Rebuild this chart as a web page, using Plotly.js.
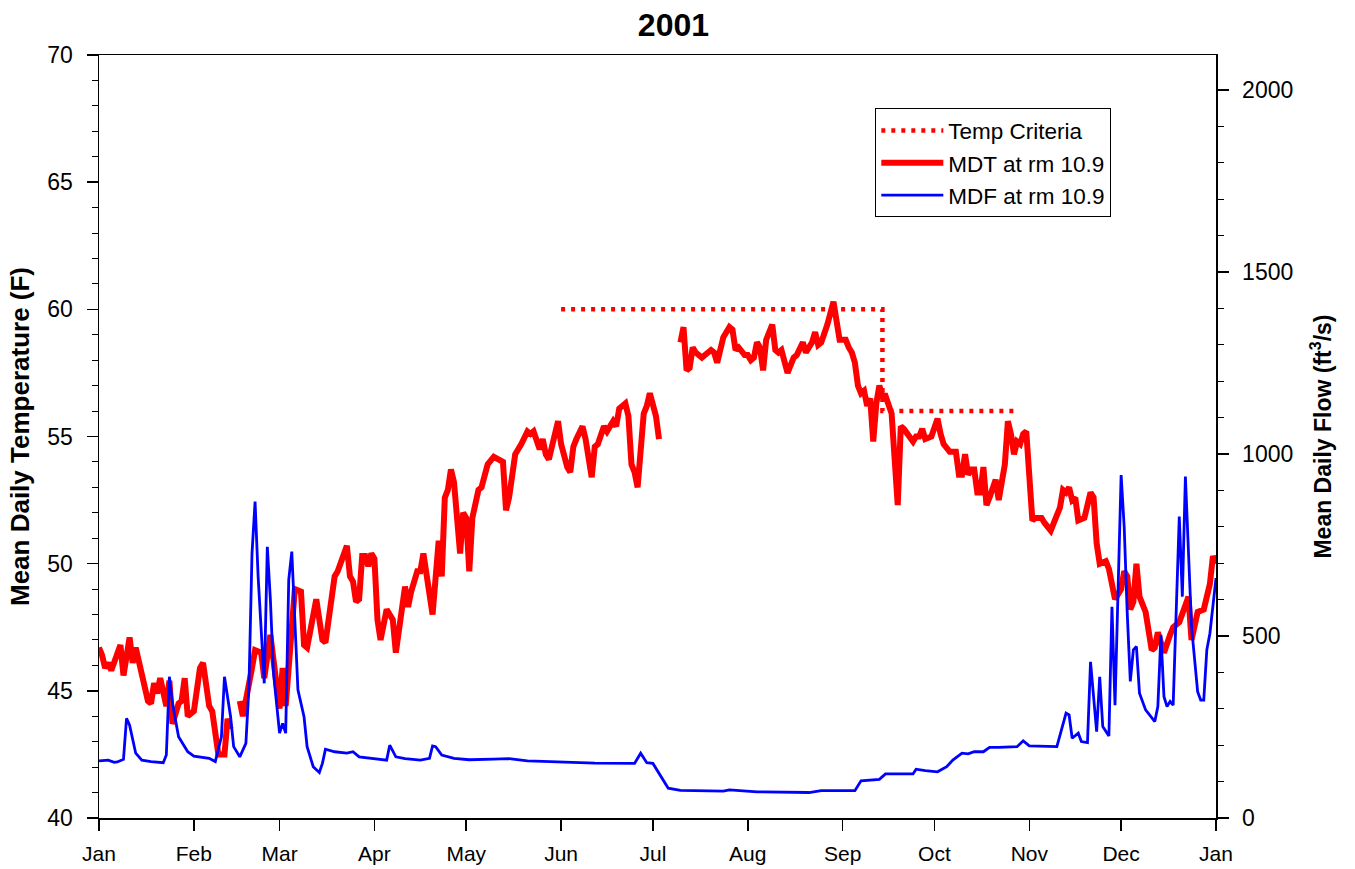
<!DOCTYPE html>
<html>
<head>
<meta charset="utf-8">
<script src="https://cdn.plot.ly/plotly-3.0.1.min.js"></script>
<style>
html,body{margin:0;padding:0;background:#fff;}
#chart{width:1355px;height:869px;}
</style>
</head>
<body>
<div id="chart"></div>
<script>
// ---- Temperature criteria (F) ----
var critDates = ['2001-06-01','2001-09-14','2001-09-14','2001-10-28'];
var critValues = [60, 60, 56, 56];

// ---- Mean daily temperature at rm 10.9 (F) ----
var tempDates = [
'2001-01-01','2001-01-02','2001-01-03','2001-01-04','2001-01-05','2001-01-06','2001-01-08','2001-01-09','2001-01-11','2001-01-12',
'2001-01-13','2001-01-17','2001-01-18','2001-01-19','2001-01-20','2001-01-21','2001-01-23','2001-01-24','2001-01-25','2001-01-27',
'2001-01-28','2001-01-29','2001-01-30','2001-02-01','2001-02-03','2001-02-04','2001-02-06','2001-02-07','2001-02-09','2001-02-11',
'2001-02-12','2001-02-13','2001-02-14','2001-02-16','2001-02-17','2001-02-20','2001-02-21','2001-02-23','2001-02-24','2001-02-26',
'2001-02-28','2001-03-01','2001-03-02','2001-03-03','2001-03-06','2001-03-08','2001-03-09','2001-03-10','2001-03-13','2001-03-15',
'2001-03-16','2001-03-19','2001-03-20','2001-03-21','2001-03-23','2001-03-24','2001-03-25','2001-03-26','2001-03-27','2001-03-28',
'2001-03-29','2001-03-30','2001-03-31','2001-04-01','2001-04-02','2001-04-03','2001-04-05','2001-04-07','2001-04-08','2001-04-11',
'2001-04-12','2001-04-13','2001-04-15','2001-04-16','2001-04-17','2001-04-20','2001-04-22','2001-04-23','2001-04-24','2001-04-25',
'2001-04-26','2001-04-27','2001-04-29','2001-04-30','2001-05-01','2001-05-02','2001-05-03','2001-05-05','2001-05-06','2001-05-08',
'2001-05-09','2001-05-10','2001-05-13','2001-05-14','2001-05-15','2001-05-17','2001-05-19','2001-05-21','2001-05-22','2001-05-23',
'2001-05-25','2001-05-26','2001-05-27','2001-05-28','2001-05-29','2001-05-31','2001-06-01','2001-06-03','2001-06-04','2001-06-05',
'2001-06-06','2001-06-08','2001-06-09','2001-06-11','2001-06-12','2001-06-13','2001-06-15','2001-06-16','2001-06-18','2001-06-19',
'2001-06-20','2001-06-22','2001-06-23','2001-06-24','2001-06-25','2001-06-26','2001-06-28','2001-06-29','2001-06-30','2001-07-02',
'2001-07-03','2001-07-06','2001-07-10','2001-07-11','2001-07-12','2001-07-13','2001-07-14','2001-07-15','2001-07-17','2001-07-20',
'2001-07-21','2001-07-22','2001-07-24','2001-07-26','2001-07-27','2001-07-28','2001-07-29','2001-07-31','2001-08-01','2001-08-02',
'2001-08-03','2001-08-04','2001-08-05','2001-08-06','2001-08-07','2001-08-09','2001-08-10','2001-08-11','2001-08-12','2001-08-14',
'2001-08-16','2001-08-17','2001-08-19','2001-08-20','2001-08-22','2001-08-23','2001-08-24','2001-08-25','2001-08-27','2001-08-29',
'2001-08-31','2001-09-02','2001-09-03','2001-09-04','2001-09-05','2001-09-06','2001-09-07','2001-09-08','2001-09-09','2001-09-10',
'2001-09-11','2001-09-12','2001-09-13','2001-09-14','2001-09-15','2001-09-16','2001-09-17','2001-09-19','2001-09-20','2001-09-21',
'2001-09-24','2001-09-25','2001-09-26','2001-09-27','2001-09-28','2001-09-30','2001-10-02','2001-10-03','2001-10-04','2001-10-06',
'2001-10-08','2001-10-09','2001-10-10','2001-10-11','2001-10-12','2001-10-13','2001-10-14','2001-10-15','2001-10-16','2001-10-17',
'2001-10-18','2001-10-19','2001-10-21','2001-10-22','2001-10-24','2001-10-25','2001-10-26','2001-10-27','2001-10-28','2001-10-29',
'2001-10-30','2001-10-31','2001-11-02','2001-11-03','2001-11-05','2001-11-06','2001-11-08','2001-11-09','2001-11-11','2001-11-12',
'2001-11-13','2001-11-14','2001-11-15','2001-11-16','2001-11-17','2001-11-19','2001-11-20','2001-11-21','2001-11-22','2001-11-23',
'2001-11-24','2001-11-26','2001-11-27','2001-11-29','2001-11-30','2001-12-01','2001-12-02','2001-12-03','2001-12-04','2001-12-05',
'2001-12-06','2001-12-07','2001-12-09','2001-12-11','2001-12-12','2001-12-13','2001-12-14','2001-12-15','2001-12-17','2001-12-18',
'2001-12-20','2001-12-21','2001-12-23','2001-12-24','2001-12-25','2001-12-26','2001-12-28','2001-12-29','2001-12-30','2001-12-31',
'2002-01-01'
];
var tempValues = [
46.7,46.4,45.9,46.1,45.8,46.1,46.8,45.6,47.1,46.1,
46.7,44.6,44.5,45.3,44.9,45.5,44.4,45.4,43.7,44.5,
44.6,45.5,44.0,44.2,45.9,46.1,44.4,44.2,42.5,42.5,
43.9,43.5,null,44.6,44.0,45.9,46.6,46.5,45.5,47.2,
45.2,44.3,45.9,44.4,49.0,48.9,46.8,46.7,48.6,47.0,
46.9,49.5,49.7,50.1,50.7,49.5,49.3,48.5,48.6,50.3,
50.3,49.9,50.4,50.2,47.8,47.0,48.2,47.8,46.5,49.1,
48.3,48.9,49.7,49.7,50.4,48.0,50.9,49.5,52.6,52.9,
53.7,53.2,50.4,52.0,51.8,49.7,51.8,52.9,53.0,53.9,
54.1,54.2,54.0,52.1,52.6,54.3,54.7,55.2,55.1,55.2,
54.5,54.9,54.3,54.1,54.6,55.6,54.7,53.8,53.6,54.6,
54.9,55.4,54.9,53.4,54.6,54.7,55.4,55.2,55.6,55.4,
56.1,56.3,55.8,53.9,53.6,53.0,55.9,56.2,56.7,55.8,
54.9,null,58.7,59.3,57.6,57.7,58.5,58.3,58.1,58.4,
58.3,57.9,58.9,59.3,59.2,58.4,58.5,58.2,58.2,58.0,
58.1,58.7,58.5,57.6,58.8,59.4,58.4,58.3,58.4,57.5,
58.1,58.2,58.7,58.3,58.7,59.1,58.6,58.7,59.4,60.3,
58.8,58.8,58.5,58.3,57.9,57.0,56.7,56.8,56.2,56.5,
54.8,56.3,57.0,56.6,56.6,56.3,55.9,52.3,55.4,55.3,
54.8,55.0,55.0,55.3,54.9,55.0,55.7,55.1,54.7,54.4,
54.4,53.5,53.5,54.3,53.5,53.7,53.7,52.8,52.8,53.8,
52.3,52.6,53.3,52.5,53.9,55.6,55.1,54.3,54.8,54.7,
55.1,55.2,51.7,51.8,51.8,51.6,51.3,51.6,52.2,52.9,
52.8,53.0,52.5,52.6,51.7,51.8,52.2,52.8,52.6,50.8,
50.0,50.1,49.8,48.6,48.8,49.0,49.7,49.5,48.2,48.5,
50.0,48.7,48.1,46.6,46.7,47.3,46.9,46.5,47.2,47.5,
47.7,48.0,48.7,47.0,47.7,48.1,48.2,48.8,49.2,50.3,
50.0
];

// ---- Mean daily flow at rm 10.9 (ft3/s) ----
var flowDates = [
'2001-01-01','2001-01-04','2001-01-06','2001-01-07','2001-01-09','2001-01-10','2001-01-11','2001-01-13','2001-01-15','2001-01-18',
'2001-01-22','2001-01-23','2001-01-24','2001-01-25','2001-01-27','2001-01-30','2001-02-01','2001-02-06','2001-02-08','2001-02-10',
'2001-02-11','2001-02-13','2001-02-14','2001-02-16','2001-02-18','2001-02-19','2001-02-20','2001-02-21','2001-02-22','2001-02-24',
'2001-02-25','2001-02-26','2001-02-27','2001-03-01','2001-03-02','2001-03-03','2001-03-04','2001-03-05','2001-03-07','2001-03-09',
'2001-03-10','2001-03-12','2001-03-14','2001-03-15','2001-03-16','2001-03-19','2001-03-23','2001-03-25','2001-03-27','2001-04-01',
'2001-04-05','2001-04-06','2001-04-08','2001-04-11','2001-04-16','2001-04-19','2001-04-20','2001-04-21','2001-04-23','2001-04-27',
'2001-05-02','2001-05-10','2001-05-15','2001-05-21','2001-06-01','2001-06-12','2001-06-25','2001-06-27','2001-06-29','2001-07-01',
'2001-07-06','2001-07-10','2001-07-24','2001-07-26','2001-08-04','2001-08-16','2001-08-21','2001-08-25','2001-09-05','2001-09-07',
'2001-09-11','2001-09-13','2001-09-15','2001-09-24','2001-09-25','2001-09-28','2001-10-02','2001-10-05','2001-10-07','2001-10-10',
'2001-10-12','2001-10-14','2001-10-17','2001-10-19','2001-10-22','2001-10-28','2001-10-30','2001-11-01','2001-11-10','2001-11-13',
'2001-11-14','2001-11-15','2001-11-17','2001-11-18','2001-11-20','2001-11-21','2001-11-23','2001-11-24','2001-11-25','2001-11-27',
'2001-11-28','2001-11-29','2001-12-01','2001-12-02','2001-12-03','2001-12-04','2001-12-05','2001-12-06','2001-12-07','2001-12-09',
'2001-12-12','2001-12-13','2001-12-14','2001-12-15','2001-12-16','2001-12-17','2001-12-18','2001-12-20','2001-12-21','2001-12-22',
'2001-12-24','2001-12-26','2001-12-27','2001-12-28','2001-12-29','2001-12-30','2002-01-01'
];
var flowValues = [
157,159,153,154,161,274,255,178,159,155,
152,173,388,315,223,182,170,164,155,223,
388,278,196,168,205,361,727,869,663,370,
745,600,400,233,260,233,654,732,352,278,
196,141,125,150,189,182,178,182,168,162,
159,200,168,163,159,164,198,196,173,164,
160,162,163,157,153,151,150,178,152,150,
82,76,74,77,72,72,70,75,75,102,
104,106,121,121,134,130,127,141,159,178,
176,182,182,194,194,196,212,198,196,288,
283,219,233,210,207,429,237,388,251,225,
580,310,942,800,562,375,462,471,343,297,
265,306,503,333,306,320,310,828,608,938,
526,347,324,324,462,507,659
];

var FONT = 'Liberation Sans, Arial, Helvetica, sans-serif';

var traces = [
  {
    x: critDates, y: critValues, name: 'Temp Criteria', type: 'scatter', mode: 'lines',
    line: {color: '#ff0000', width: 4.5, dash: '4px,6px'}, yaxis: 'y'
  },
  {
    x: tempDates, y: tempValues, name: 'MDT at rm 10.9', type: 'scatter', mode: 'lines',
    line: {color: '#ff0000', width: 6}, connectgaps: false, yaxis: 'y'
  },
  {
    x: flowDates, y: flowValues, name: 'MDF at rm 10.9', type: 'scatter', mode: 'lines',
    line: {color: '#0000ff', width: 2.8}, yaxis: 'y2'
  }
];

var layout = {
  width: 1355, height: 869,
  margin: {l: 99, r: 139, t: 55, b: 51, pad: 0},
  paper_bgcolor: '#ffffff', plot_bgcolor: '#ffffff',
  font: {family: FONT, color: '#000000', size: 21},
  title: {text: '<b>2001</b>', font: {family: FONT, size: 32, color: '#000'}, x: 0.497, xref: 'container', xanchor: 'center', y: 0.972, yanchor: 'middle', yref: 'container'},
  showlegend: true,
  legend: {
    x: 0.695, y: 0.93, xanchor: 'left', yanchor: 'top',
    bordercolor: '#000', borderwidth: 1, bgcolor: '#fff',
    font: {family: FONT, size: 22.5, color: '#000'},
    tracegroupgap: 0, itemwidth: 62
  },
  xaxis: {
    type: 'date', range: ['2001-01-01', '2002-01-01'],
    tick0: '2001-01-01', dtick: 'M1', tickformat: '%b',
    ticks: 'outside', ticklen: 11, tickwidth: 1.5, tickcolor: '#000',
    showline: true, linecolor: '#000', linewidth: 1.5, mirror: true,
    showgrid: false, zeroline: false,
    tickfont: {family: FONT, size: 21, color: '#000'},
    ticklabelstandoff: 5
  },
  yaxis: {
    range: [40, 70], dtick: 5, tick0: 40,
    ticks: 'outside', ticklen: 11, tickwidth: 1.5, tickcolor: '#000',
    minor: {ticks: 'outside', ticklen: 6, dtick: 1, tickcolor: '#000', tickwidth: 1, showgrid: false},
    showline: true, linecolor: '#000', linewidth: 1.5,
    showgrid: false, zeroline: false,
    tickfont: {family: FONT, size: 23, color: '#000'},
    ticklabelstandoff: 9,
    title: {text: '<b>Mean Daily Temperature (F)</b>', font: {family: FONT, size: 26, color: '#000'}, standoff: 10}
  },
  yaxis2: {
    overlaying: 'y', side: 'right', anchor: 'x',
    range: [0, 2096], dtick: 500, tick0: 0,
    ticks: 'outside', ticklen: 11, tickwidth: 1.5, tickcolor: '#000',
    minor: {ticks: 'outside', ticklen: 6, dtick: 100, tickcolor: '#000', tickwidth: 1, showgrid: false},
    showline: true, linecolor: '#000', linewidth: 1.5,
    showgrid: false, zeroline: false,
    tickfont: {family: FONT, size: 23, color: '#000'},
    ticklabelstandoff: 9,
    title: {text: '<b>Mean Daily Flow (ft<sup>3</sup>/s)</b>', font: {family: FONT, size: 23, color: '#000'}, standoff: 22}
  }
};

Plotly.newPlot('chart', traces, layout, {displayModeBar: false, responsive: false, staticPlot: true});
</script>
</body>
</html>
